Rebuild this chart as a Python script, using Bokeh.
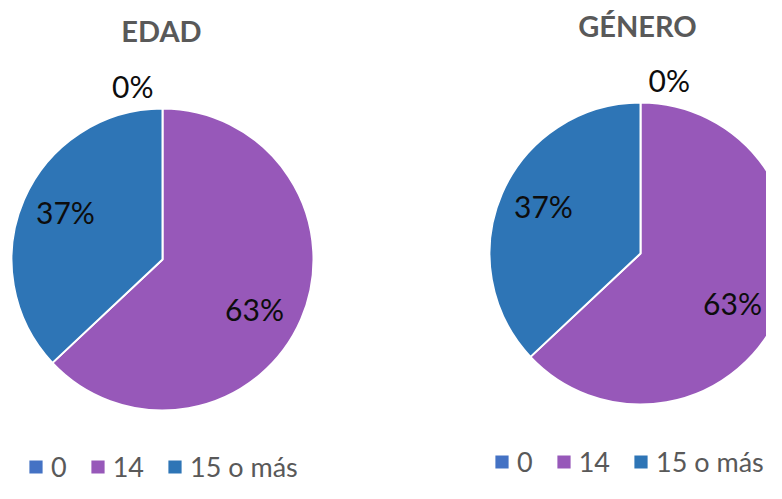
import math
from bokeh.plotting import figure
from bokeh.models import Range1d, ColumnDataSource, Legend, LegendItem
from bokeh.embed import file_html
from bokeh.resources import INLINE
from bokeh.core.properties import value

# ---- data ----
categories = ["0", "14", "15 o más"]
edad_pct = [0, 63, 37]
genero_pct = [0, 63, 37]
slice_colors = ["#4472C4", "#9758B9", "#2E75B6"]
titles = ["EDAD", "GÉNERO"]

# ---- layout ----
W, H = 766, 483
p = figure(width=W, height=H,
           x_range=Range1d(0, W), y_range=Range1d(-H, 0),
           output_backend="svg", toolbar_location=None, min_border=0,
           x_axis_location=None, y_axis_location=None)
p.grid.visible = False
p.outline_line_color = None
p.background_fill_color = "white"
p.border_fill_color = "white"

FONT = "Lato"
TXT_SHIFT = 12  # compensation for baseline placement of the text glyph
# small nudges of the inside labels (screen px, +y = down), per slice index
LABEL_NUDGE = {1: (-5, 9), 2: (0, -5)}

charts = [
    dict(title=titles[0], vals=edad_pct, cx=162, cy=259, r=151, tbase=42,
         zero_side="left", legend_loc=(26, 0)),
    dict(title=titles[1], vals=genero_pct, cx=640, cy=253, r=151, tbase=37,
         zero_side="right", legend_loc=(492, 5)),
]

for ch in charts:
    vals = ch["vals"]
    total = float(sum(vals))
    cx, cy, r = ch["cx"], ch["cy"], ch["r"]
    starts, ends = [], []
    cum = 0.0
    lab_in_x, lab_in_y, lab_in_t = [], [], []
    zero_labels = []
    for i, v in enumerate(vals):
        f0 = cum / total
        f1 = (cum + v) / total
        a0 = math.pi / 2 - 2 * math.pi * f0
        a1 = math.pi / 2 - 2 * math.pi * f1
        starts.append(a0)
        ends.append(a1)
        mid = math.pi / 2 - 2 * math.pi * (f0 + f1) / 2
        if v > 0:
            nx, ny = LABEL_NUDGE.get(i, (0, 0))
            lx = cx + 0.70 * r * math.cos(mid) + nx
            ly = cy - 0.70 * r * math.sin(mid) + ny
            lab_in_x.append(lx)
            lab_in_y.append(-(ly + 11) + TXT_SHIFT)
            lab_in_t.append(f"{v}%")
        else:
            zero_labels.append(f"{v}%")
        cum += v

    src = ColumnDataSource(dict(
        x=[cx] * len(vals), y=[-cy] * len(vals),
        start=starts, end=ends, color=slice_colors, cat=categories))
    wr = p.wedge(x="x", y="y", radius=r, start_angle="start", end_angle="end",
                 direction="clock", fill_color="color", line_color="white",
                 line_width=2, source=src)

    # inside labels
    p.text(x=lab_in_x, y=lab_in_y, text=lab_in_t, text_align="center",
           text_baseline="alphabetic", text_font=value(FONT),
           text_font_size="30px", text_color="#0d0d0d")
    # zero-value labels outside above the pie
    for t in zero_labels:
        if ch["zero_side"] == "left":
            zx, za = cx - 9, "right"
        else:
            zx, za = cx + 8, "left"
        p.text(x=[zx], y=[-(cy - 1.07 * r) + TXT_SHIFT], text=[t], text_align=za,
               text_baseline="alphabetic", text_font=value(FONT),
               text_font_size="30px", text_color="#0d0d0d")

    # title
    p.text(x=[cx - 1 if ch["zero_side"] == "left" else cx - 3],
           y=[-ch["tbase"] + TXT_SHIFT],
           text=[ch["title"]], text_align="center", text_baseline="alphabetic",
           text_font=value(FONT), text_font_style="bold",
           text_font_size="29px", text_color="#595959")

    items = [LegendItem(label=c, renderers=[wr], index=i)
             for i, c in enumerate(categories)]
    lg = Legend(items=items, location=ch["legend_loc"], orientation="horizontal",
                padding=0, margin=0, spacing=21, label_standoff=6,
                glyph_width=19, glyph_height=19, label_width=1,
                label_text_font=FONT, label_text_font_size="27px",
                label_text_color="#595959", border_line_alpha=0,
                background_fill_alpha=0)
    p.add_layout(lg)

open("out.html", "w").write(file_html(p, INLINE))
